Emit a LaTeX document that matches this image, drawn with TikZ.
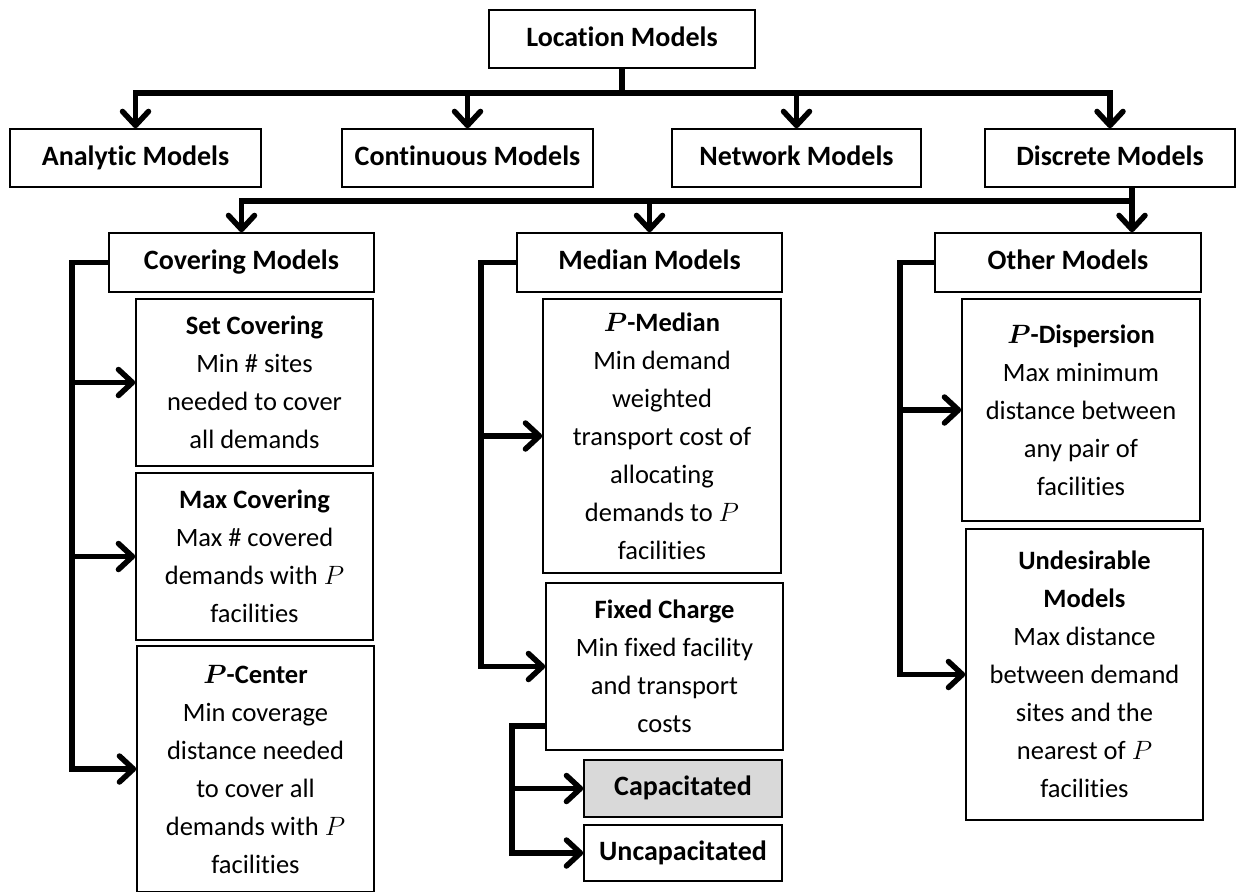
\RequirePackage{fix-cm}
\documentclass[tikz,border=0pt]{standalone}
\usepackage{amsmath}
\usepackage{fontspec}
\setmainfont{Carlito}[Ligatures={NoCommon}]
\usepackage{tikz}
\usetikzlibrary{arrows.meta,positioning}
\definecolor{capgray}{HTML}{D9D9D9}
\newcommand{\boxfont}{\fontsize{26.5}{38}\selectfont}
\newcommand{\catfont}{\fontsize{28}{38}\selectfont\bfseries}

\tikzset{
	catbox/.style={draw, line width=1.6pt, align=center, inner sep=0pt, font=\catfont, minimum height=58pt, text height=19pt, text depth=5pt},
	descbox/.style={draw, line width=1.6pt, align=center, inner sep=0pt, font=\boxfont},
	link/.style={line width=5.5pt},
	arrowhd/.style={-{Straight Barb[length=14pt,width=26pt,round]}}
}

\begin{document}
\begin{tikzpicture}[x=1pt,y=-1pt]
		\useasboundingbox (0,0) rectangle (1238,891);

		\node[catbox, minimum width=266pt] (loc) at (622,39) {Location Models};
		\node[catbox, minimum width=251pt] (analytic) at (135.5,158) {Analytic Models};
		\node[catbox, minimum width=251pt] (continuous) at (467.5,158) {Continuous Models};
		\node[catbox, minimum width=249pt] (network) at (796.5,158) {Network Models};
		\node[catbox, minimum width=250pt] (discrete) at (1110,158) {Discrete Models};

		\node[catbox, minimum width=265pt, minimum height=59pt] (covering) at (241.5,262.5) {Covering Models};
		\node[catbox, minimum width=265pt, minimum height=59pt] (median) at (649.5,262.5) {Median Models};
		\node[catbox, minimum width=266pt, minimum height=59pt] (other) at (1068,262.5) {Other Models};

		% covering
		\node[descbox, minimum width=237pt, minimum height=167pt] (setcov) at (254.5,382.5) {\textbf{Set Covering}\\Min \# sites\\needed to cover\\all demands};
		\node[descbox, minimum width=237pt, minimum height=167pt] (maxcov) at (254.5,556.5) {\textbf{Max Covering}\\Max \# covered\\demands with $P$\\facilities};
		\node[descbox, minimum width=237pt, minimum height=246pt] (pcenter) at (255.5,769) {$\boldsymbol{P}$\textbf{-Center}\\Min coverage\\distance needed\\to cover all\\demands with $P$\\facilities};

		% median
		\node[descbox, minimum width=238pt, minimum height=274pt] (pmedian) at (662,436) {$\boldsymbol{P}$\textbf{-Median}\\Min demand\\weighted\\transport cost of\\allocating\\demands to $P$\\facilities};
		\node[descbox, minimum width=237pt, minimum height=167pt] (fixed) at (664.5,666.5) {\textbf{Fixed Charge}\\Min fixed facility\\and transport\\costs};
		\node[catbox, fill=capgray, minimum width=198pt, minimum height=57pt] (capac) at (683,788.5) {Capacitated};
		\node[catbox, minimum width=198pt, minimum height=56pt] (uncap) at (683,853) {Uncapacitated};

		% other
		\node[descbox, minimum width=238pt, minimum height=222pt] (pdisp) at (1081,410) {$\boldsymbol{P}$\textbf{-Dispersion}\\Max minimum\\distance between\\any pair of\\facilities};
		\node[descbox, minimum width=237pt, minimum height=291pt] (undes) at (1084.5,674.5) {\textbf{Undesirable}\\\textbf{Models}\\Max distance\\between demand\\sites and the\\nearest of $P$\\facilities};

		\coordinate (busA) at (0,93);
		\coordinate (busB) at (1132,201);
		\coordinate (cvx) at (72,0);
		\coordinate (mdx) at (481,0);
		\coordinate (fxx) at (512,0);
		\coordinate (otx) at (900,0);
		\coordinate (fxout) at ([yshift=25pt]fixed.south west);

		\draw[link,arrowhd] (loc.south) -- (loc.south |- busA) -- (analytic.north |- busA) -- (analytic.north);
		\draw[link,arrowhd] (loc.south |- busA) -- (discrete.north |- busA) -- (discrete.north);
		\foreach \n in {continuous,network}
			\draw[link,arrowhd] (\n.north |- busA) -- (\n.north);

		\draw[link,arrowhd] (discrete.south -| busB) -- (busB) -- (busB |- other.north);
		\draw[link,arrowhd] (busB) -- (busB -| covering.north) -- (covering.north);
		\draw[link,arrowhd] (busB -| median.north) -- (median.north);

		\draw[link,arrowhd] (covering.west) -- (covering.west -| cvx) -- (cvx |- pcenter.west) -- (pcenter.west);
		\foreach \n in {setcov,maxcov}
			\draw[link,arrowhd] (cvx |- \n.west) -- (\n.west);

		\draw[link,arrowhd] (median.west) -- (median.west -| mdx) -- (mdx |- fixed.west) -- (fixed.west);
		\draw[link,arrowhd] (mdx |- pmedian.west) -- (pmedian.west);

		\draw[link,arrowhd] (fxout) -- (fxout -| fxx) -- (fxx |- uncap.west) -- (uncap.west);
		\draw[link,arrowhd] (fxx |- capac.west) -- (capac.west);

		\draw[link,arrowhd] (other.west) -- (other.west -| otx) -- (otx |- undes.west) -- (undes.west);
		\draw[link,arrowhd] (otx |- pdisp.west) -- (pdisp.west);
\end{tikzpicture}
\end{document}
